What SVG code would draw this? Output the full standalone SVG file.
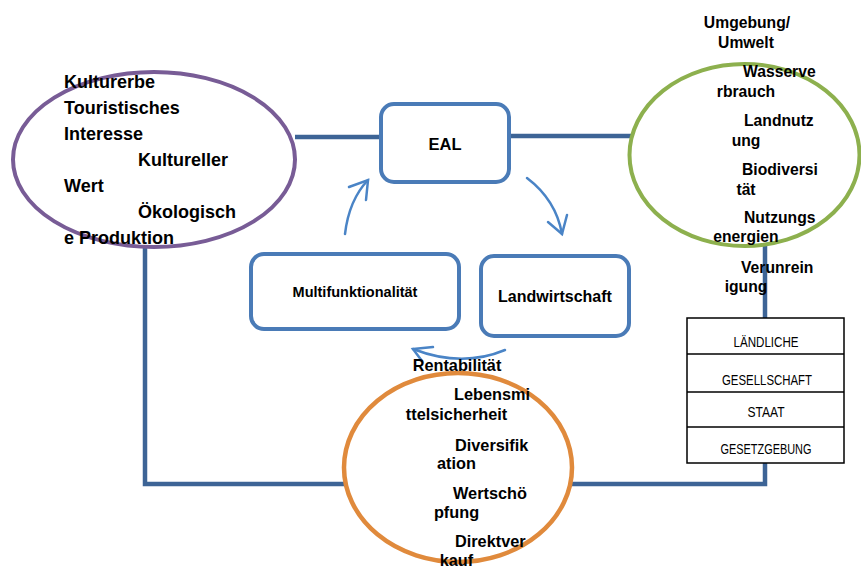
<svg xmlns="http://www.w3.org/2000/svg" width="861" height="568" viewBox="0 0 861 568">
<style>
.lbl{font-family:"Liberation Sans",Arial,sans-serif;font-weight:bold;fill:#000}
.p{font-size:18px}
.g{font-size:15.7px}
.o{font-size:16.3px}
.box{fill:#fff;stroke:#4a7bb7;stroke-width:4}
.conn{stroke:#3d6496;stroke-width:4.5;fill:none}
.arr{stroke:#4a84c6;stroke-width:2.5;fill:none;stroke-linecap:round}
.tb{font-family:"Liberation Sans",Arial,sans-serif;font-size:14px;fill:#000;text-anchor:middle}
</style>
<rect width="861" height="568" fill="#fff"/>
<g id="connectors">
<line class="conn" x1="295" y1="137" x2="382" y2="137"/>
<line class="conn" x1="508" y1="136" x2="631" y2="136"/>
<polyline class="conn" points="145,246 145,484 345,484"/>
<polyline class="conn" points="571,484 765,484 765,462"/>
<line class="conn" x1="765" y1="245" x2="765" y2="319"/>
<path class="arr" d="M345,234 Q349,200 368,180"/>
<polyline class="arr" points="349,187 368,180 366,200"/>
<path class="arr" d="M527,178 Q556,200 562,234"/>
<polyline class="arr" points="548,222 562,234 567,215"/>
<path class="arr" d="M505,350 Q462,368 413,349"/>
<polyline class="arr" points="433,347 413,349 422,361"/>
</g>
<g id="purple">
<ellipse cx="154" cy="159.5" rx="141" ry="87.5" fill="none" stroke="#785c96" stroke-width="4"/>
<text class="lbl p" x="64" y="88">Kulturerbe</text>
<text class="lbl p" x="64" y="114">Touristisches</text>
<text class="lbl p" x="64" y="140">Interesse</text>
<text class="lbl p" x="138" y="166">Kultureller</text>
<text class="lbl p" x="64" y="192">Wert</text>
<text class="lbl p" x="138" y="218">Ökologisch</text>
<text class="lbl p" x="64" y="244">e Produktion</text>
</g>
<g id="eal">
<rect class="box" x="381" y="104" width="128" height="78" rx="13"/>
<text class="lbl" x="445" y="150" font-size="16.5" text-anchor="middle">EAL</text>
</g>
<g id="multi">
<rect class="box" x="251" y="254" width="208" height="75" rx="13"/>
<text class="lbl" x="355" y="297" font-size="14.5" text-anchor="middle">Multifunktionalität</text>
</g>
<g id="landwirtschaft">
<rect class="box" x="481" y="256" width="148" height="80" rx="13"/>
<text class="lbl" x="555" y="302" font-size="16" text-anchor="middle">Landwirtschaft</text>
</g>
<g id="green">
<ellipse cx="744.5" cy="155" rx="115" ry="91" fill="none" stroke="#8db04e" stroke-width="4"/>
<text class="lbl g" x="747" y="28" text-anchor="middle">Umgebung/</text>
<text class="lbl g" x="746" y="48" text-anchor="middle">Umwelt</text>
<text class="lbl g" x="743" y="77">Wasserve</text>
<text class="lbl g" x="746" y="97" text-anchor="middle">rbrauch</text>
<text class="lbl g" x="744" y="126">Landnutz</text>
<text class="lbl g" x="746" y="146" text-anchor="middle">ung</text>
<text class="lbl g" x="742" y="175">Biodiversi</text>
<text class="lbl g" x="746" y="195" text-anchor="middle">tät</text>
<text class="lbl g" x="744" y="223">Nutzungs</text>
<text class="lbl g" x="746" y="242" text-anchor="middle">energien</text>
<text class="lbl g" x="741" y="273">Verunrein</text>
<text class="lbl g" x="746" y="292" text-anchor="middle">igung</text>
</g>
<g id="stack">
<rect x="687" y="318" width="157" height="145" fill="#fff" stroke="#000" stroke-width="1.5"/>
<line x1="687" y1="354" x2="844" y2="354" stroke="#000" stroke-width="1.5"/>
<line x1="687" y1="392" x2="844" y2="392" stroke="#000" stroke-width="1.5"/>
<line x1="687" y1="427" x2="844" y2="427" stroke="#000" stroke-width="1.5"/>
<text class="tb" x="766" y="347" textLength="65" lengthAdjust="spacingAndGlyphs">LÄNDLICHE</text>
<text class="tb" x="767" y="385" textLength="90" lengthAdjust="spacingAndGlyphs">GESELLSCHAFT</text>
<text class="tb" x="766" y="417" textLength="37" lengthAdjust="spacingAndGlyphs">STAAT</text>
<text class="tb" x="766" y="454" textLength="91" lengthAdjust="spacingAndGlyphs">GESETZGEBUNG</text>
</g>
<g id="orange">
<ellipse cx="458" cy="467.5" rx="114" ry="94.5" fill="none" stroke="#e08a3c" stroke-width="4.5"/>
<text class="lbl o" x="457" y="371" text-anchor="middle">Rentabilität</text>
<text class="lbl o" x="454" y="400">Lebensmi</text>
<text class="lbl o" x="456.5" y="420" text-anchor="middle">ttelsicherheit</text>
<text class="lbl o" x="455" y="451">Diversifik</text>
<text class="lbl o" x="456.5" y="469" text-anchor="middle">ation</text>
<text class="lbl o" x="453" y="499">Wertschö</text>
<text class="lbl o" x="456.5" y="518" text-anchor="middle">pfung</text>
<text class="lbl o" x="455" y="547">Direktver</text>
<text class="lbl o" x="456.5" y="566" text-anchor="middle">kauf</text>
</g>
</svg>
